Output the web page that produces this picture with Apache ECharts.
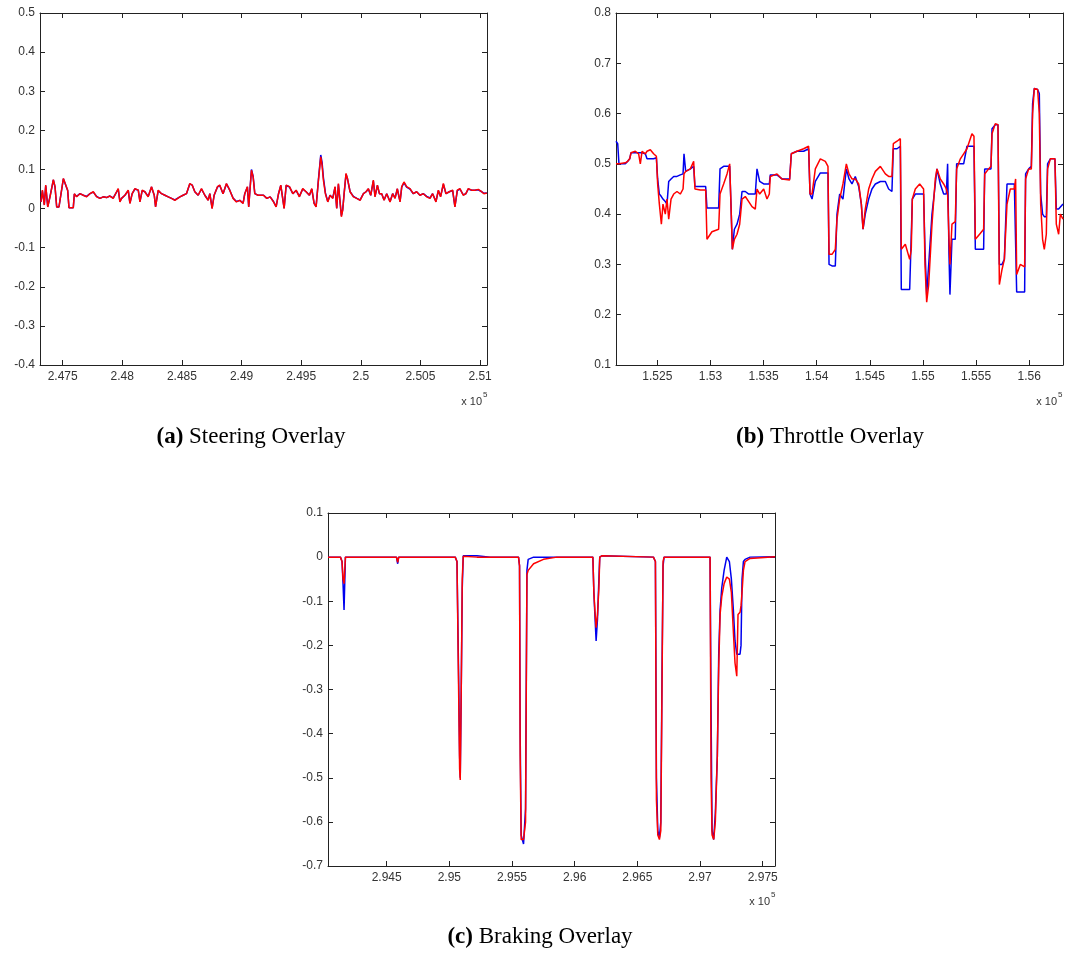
<!DOCTYPE html>
<html>
<head>
<meta charset="utf-8">
<script src="https://cdn.jsdelivr.net/npm/echarts@6/dist/echarts.min.js"></script>
<style>
html,body{margin:0;padding:0;background:#fff;}
#chart{width:1069px;height:954px;}
</style>
</head>
<body>
<div id="chart"></div>
<script>
// ---------- (a) Steering ----------
const steerX = [
247318,247330,247346,247358,247375,247394,247422,247436,247450,247469,
247506,247519,247542,247553,247589,247598,247617,247645,247673,247701,
247729,247757,247785,247813,247840,247868,247896,247924,247952,247966,
247980,247994,248022,248050,248064,248083,248106,248134,248148,248167,
248189,248217,248245,248268,248279,248301,248329,248357,248385,248413,
248441,248455,248483,248510,248538,248566,248586,248608,248636,248664,
248692,248720,248734,248753,248770,248798,248817,248845,248873,248901,
248929,248957,248985,249013,249027,249049,249060,249083,249097,249111,
249139,
249184,249212,249240,249268,249290,249310,249329,249357,249374,249402,
249430,249458,249485,249513,249541,249569,249589,249608,249625,249645,
249664,249675,249686,249703,249723,249742,249765,249784,249798,249812,
249826,249837,249848,249860,249876,249888,249910,249938,249966,249994,
250022,250044,250063,250083,250105,250119,250139,250156,250175,250195,
250217,250245,250267,250287,250306,250329,250343,250362,250384,250412,
250440,250468,250496,250524,250552,250580,250602,250630,250650,250669,
250692,250714,250742,250770,250789,250809,250831,250859,250881,250901,
250929,250957,250985,251013,251032,251057
];
const steerRed = [
0.017,0.047,0.009,0.060,0.004,0.030,0.074,0.056,0.004,0.004,
0.077,0.073,0.047,0.002,0.002,0.038,0.030,0.038,0.034,0.030,
0.038,0.043,0.030,0.026,0.030,0.028,0.032,0.026,0.043,0.051,
0.017,0.026,0.034,0.047,0.013,0.038,0.051,0.047,0.017,0.047,
0.043,0.030,0.056,0.034,0.004,0.047,0.038,0.034,0.030,0.026,
0.021,0.017,0.030,0.034,0.038,0.064,0.060,0.043,0.034,0.051,
0.034,0.021,0.038,0.000,0.034,0.056,0.060,0.038,0.064,0.047,
0.026,0.017,0.021,0.013,0.038,0.056,0.004,0.098,0.081,0.038,
0.034,
0.034,0.026,0.030,0.017,0.004,0.038,0.060,0.000,0.060,0.056,
0.038,0.047,0.030,0.051,0.043,0.034,0.051,0.013,0.004,0.073,
0.132,0.111,0.073,0.038,0.017,0.034,0.026,0.056,0.000,0.064,
0.064,-0.021,-0.004,0.038,0.090,0.077,0.043,0.030,0.026,0.021,
0.038,0.043,0.051,0.034,0.073,0.030,0.060,0.038,0.038,0.021,
0.038,0.017,0.038,0.026,0.051,0.017,0.056,0.068,0.056,0.051,
0.038,0.043,0.034,0.038,0.030,0.026,0.038,0.017,0.047,0.030,
0.064,0.038,0.043,0.047,0.004,0.047,0.051,0.034,0.038,0.051,
0.047,0.047,0.049,0.043,0.038,0.040
];
const steerBlue = [
0.017,0.045,0.010,0.058,0.005,0.031,0.073,0.055,0.004,0.004,
0.076,0.072,0.046,0.002,0.002,0.037,0.031,0.038,0.034,0.031,
0.038,0.042,0.031,0.026,0.030,0.028,0.032,0.027,0.042,0.050,
0.018,0.026,0.034,0.046,0.014,0.038,0.050,0.047,0.018,0.046,
0.043,0.031,0.055,0.034,0.005,0.046,0.038,0.034,0.030,0.026,
0.022,0.018,0.030,0.034,0.038,0.063,0.060,0.043,0.034,0.050,
0.034,0.022,0.038,0.001,0.034,0.055,0.059,0.038,0.063,0.047,
0.027,0.018,0.021,0.014,0.038,0.055,0.005,0.100,0.083,0.038,
0.034,
0.034,0.026,0.030,0.018,0.005,0.038,0.059,0.001,0.059,0.055,
0.038,0.046,0.031,0.050,0.043,0.034,0.050,0.014,0.005,0.076,
0.137,0.118,0.080,0.040,0.018,0.034,0.027,0.055,0.001,0.062,
0.063,-0.018,-0.003,0.038,0.088,0.076,0.043,0.031,0.026,0.022,
0.038,0.043,0.050,0.034,0.071,0.031,0.059,0.038,0.038,0.022,
0.038,0.018,0.038,0.027,0.050,0.018,0.055,0.066,0.055,0.050,
0.038,0.043,0.034,0.038,0.031,0.027,0.038,0.018,0.046,0.031,
0.062,0.038,0.043,0.046,0.005,0.046,0.050,0.035,0.038,0.050,
0.047,0.047,0.048,0.043,0.039,0.040
];
const steerTicks = [247500,248000,248500,249000,249500,250000,250500,251000];

// ---------- (b) Throttle ----------
const throtX = [
152111,152127,152139,152199,152221,152240,152252,152293,152324,152340,
152356,152387,152403,152434,152465,152491,152503,152519,152538,152553,
152575,152591,152607,152629,152654,152685,152716,152742,152751,152767,
152811,152842,152854,152905,152955,152967,153014,153077,153090,153124,
153156,153181,153193,153206,153225,153250,153275,153297,153328,153360,
153391,153422,153438,153463,153501,153532,153554,153563,153626,153673,
153745,153761,153814,153877,153924,153937,153956,153987,154034,154081,
154106,154116,154144,154175,154191,154216,154247,154279,154304,154332,
154363,154395,154420,154436,154457,154489,154520,154552,154599,154646,
154677,154708,154721,154756,154787,154796,154834,154875,154890,154900,
154928,154969,155006,155019,155035,155054,155085,155116,155132,155163,
155195,155220,155232,155245,155254,155273,155304,155317,155352,155383,
155414,155461,155480,155493,155533,155571,155581,155618,155640,155650,
155681,155706,155719,155744,155766,155791,155822,155860,155872,155882,
155916,155957,155966,155995,156020,156032,156048,156079,156095,156108,
156126,156142,156161,156173,156199,156242,156255,156277,156293,156318
];
const throtBlue = [
0.545,0.54,0.50,0.50,0.505,0.51,0.522,0.522,0.522,0.52,
0.522,0.52,0.51,0.51,0.51,0.512,0.47,0.44,0.435,0.43,
0.425,0.42,0.465,0.47,0.475,0.475,0.478,0.48,0.52,0.485,
0.49,0.495,0.455,0.455,0.455,0.412,0.412,0.412,0.49,0.495,
0.495,0.495,0.42,0.33,0.37,0.38,0.40,0.445,0.445,0.44,
0.44,0.44,0.49,0.465,0.46,0.46,0.46,0.478,0.478,0.47,
0.47,0.52,0.525,0.525,0.53,0.44,0.43,0.465,0.482,0.482,
0.482,0.30,0.297,0.297,0.40,0.44,0.43,0.49,0.47,0.46,
0.475,0.455,0.42,0.37,0.40,0.43,0.45,0.46,0.465,0.465,
0.45,0.445,0.53,0.53,0.535,0.25,0.25,0.25,0.25,0.43,
0.44,0.44,0.44,0.33,0.24,0.30,0.40,0.46,0.49,0.46,
0.44,0.44,0.50,0.32,0.24,0.35,0.35,0.50,0.50,0.50,
0.535,0.535,0.535,0.33,0.33,0.33,0.49,0.49,0.49,0.57,
0.578,0.578,0.30,0.30,0.31,0.46,0.46,0.46,0.46,0.245,
0.245,0.245,0.48,0.49,0.495,0.62,0.65,0.648,0.64,0.44,
0.40,0.395,0.395,0.50,0.51,0.51,0.41,0.41,0.41,0.42
];
const throtRed = [
0.50,0.50,0.50,0.502,0.505,0.51,0.522,0.525,0.52,0.50,
0.525,0.52,0.525,0.528,0.52,0.515,0.46,0.42,0.38,0.42,
0.40,0.43,0.39,0.43,0.44,0.445,0.44,0.45,0.48,0.485,
0.49,0.505,0.45,0.448,0.448,0.35,0.365,0.37,0.44,0.46,
0.48,0.50,0.42,0.33,0.35,0.36,0.38,0.43,0.435,0.425,
0.415,0.41,0.45,0.44,0.45,0.43,0.44,0.475,0.48,0.47,
0.468,0.52,0.525,0.53,0.535,0.44,0.44,0.49,0.51,0.505,
0.495,0.32,0.32,0.33,0.39,0.43,0.46,0.50,0.48,0.47,
0.47,0.46,0.42,0.37,0.41,0.45,0.47,0.485,0.495,0.48,
0.475,0.475,0.54,0.545,0.55,0.33,0.34,0.31,0.33,0.43,
0.45,0.46,0.45,0.30,0.225,0.26,0.38,0.47,0.49,0.47,
0.46,0.45,0.44,0.35,0.30,0.38,0.385,0.49,0.51,0.52,
0.53,0.56,0.555,0.35,0.36,0.37,0.48,0.49,0.495,0.56,
0.58,0.578,0.26,0.29,0.31,0.42,0.45,0.45,0.47,0.28,
0.30,0.295,0.47,0.49,0.49,0.60,0.65,0.648,0.60,0.42,
0.35,0.33,0.36,0.49,0.51,0.51,0.38,0.36,0.40,0.39
];
const throtTicks = [152500,153000,153500,154000,154500,155000,155500,156000];

// ---------- (c) Braking ----------
const brakeX = [
294032,294131,294144,294152,294160,294171,294184,294224,294476,294578,294588,
294596,295047,295061,295074,295082,295087,295095,295103,295111,295220,
295326,295552,295560,295565,295573,295592,295608,295619,295629,295672,
295751,295858,296145,296153,296161,296171,296182,296193,296200,296216,
296628,296644,296652,296663,296676,296687,296697,296705,296713,297080,
297088,297096,297109,297122,297138,297149,297160,297173,297192,297213,
297234,297250,297266,297279,297293,297303,297319,297327,297335,297346,
297359,297399,297598
];
const brakeBlue = [
0,0,-0.01,-0.06,-0.12,0,0.003,0,0,0,-0.015,
0,0,-0.01,-0.27,-0.45,-0.5,-0.3,-0.07,0.003,0.003,
0,0,-0.02,-0.4,-0.63,-0.65,-0.57,-0.03,-0.005,0,
0,0,0,-0.08,-0.13,-0.19,-0.14,-0.05,0,0.003,
0,-0.01,-0.5,-0.62,-0.635,-0.6,-0.25,-0.02,0,0,
-0.35,-0.62,-0.64,-0.58,-0.45,-0.22,-0.12,-0.07,-0.03,0,
-0.01,-0.05,-0.12,-0.19,-0.22,-0.22,-0.22,-0.2,-0.05,-0.01,
-0.005,0,0.001
];
const brakeRed = [
0,0,-0.01,-0.05,-0.06,0,0.003,0,0,0,-0.012,
0,0,-0.01,-0.3,-0.48,-0.505,-0.3,-0.05,0.002,0,
0,0,-0.02,-0.45,-0.64,-0.64,-0.6,-0.04,-0.03,-0.015,
-0.005,0,0,-0.08,-0.12,-0.16,-0.13,-0.07,0,0.003,
0,-0.01,-0.55,-0.63,-0.64,-0.62,-0.28,-0.01,0,0,
-0.5,-0.63,-0.64,-0.6,-0.45,-0.25,-0.13,-0.09,-0.06,-0.045,
-0.05,-0.08,-0.17,-0.24,-0.27,-0.13,-0.125,-0.11,-0.08,-0.03,
-0.01,-0.003,0.001
];
const brakeTicks = [294500,295000,295500,296000,296500,297000,297500];

const captions = ['Steering Overlay', 'Throttle Overlay', 'Braking Overlay'];
const captionTags = ['(a)', '(b)', '(c)'];
const scaleText = 'x 10';
const scaleExp = '5';

// ---------- build ----------
const pair = (xs, ys) => xs.map((x, i) => [x, ys[i]]);
const fmtX = v => String(+(v / 1e5).toFixed(4));
const TXT = '#333';
const LINE = '#222';
const SANS = 'Liberation Sans, Arial, sans-serif';
const SERIF = 'Liberation Serif, Times New Roman, serif';

const panels = [
  {grid:{left:40, top:13, width:447, height:352}, xmin:247310, xmax:251058, ymin:-0.4, ymax:0.5, ticks:steerTicks,
   blue:pair(steerX, steerBlue), red:pair(steerX, steerRed)},
  {grid:{left:616, top:13, width:447, height:352}, xmin:152111, xmax:156318, ymin:0.1, ymax:0.8, ticks:throtTicks,
   blue:pair(throtX, throtBlue), red:pair(throtX, throtRed)},
  {grid:{left:328, top:513, width:447, height:353}, xmin:294032, xmax:297598, ymin:-0.7, ymax:0.1, ticks:brakeTicks,
   blue:pair(brakeX, brakeBlue), red:pair(brakeX, brakeRed)}
];

const grids = [], xAxes = [], yAxes = [], series = [];
panels.forEach((p, i) => {
  grids.push(Object.assign({containLabel:false}, p.grid));
  const common = {axisLine:{show:true, onZero:false, lineStyle:{color:LINE, width:1}}, splitLine:{show:false}};
  xAxes.push(Object.assign({type:'value', gridIndex:i, position:'bottom', min:p.xmin, max:p.xmax,
    axisTick:{show:true, inside:true, length:5, customValues:p.ticks, lineStyle:{color:LINE}},
    axisLabel:{show:true, customValues:p.ticks, formatter:fmtX, margin:6, color:TXT, fontSize:12, fontFamily:SANS}}, common));
  xAxes.push(Object.assign({type:'value', gridIndex:i, position:'top', min:p.xmin, max:p.xmax,
    axisTick:{show:true, inside:true, length:5, customValues:p.ticks, lineStyle:{color:LINE}},
    axisLabel:{show:false}}, common));
  yAxes.push(Object.assign({type:'value', gridIndex:i, position:'left', min:p.ymin, max:p.ymax, interval:0.1,
    axisTick:{show:true, inside:true, length:5, lineStyle:{color:LINE}},
    axisLabel:{show:true, margin:5, color:TXT, fontSize:12, fontFamily:SANS,
      formatter: v => String(+v.toFixed(2))}}, common));
  yAxes.push(Object.assign({type:'value', gridIndex:i, position:'right', min:p.ymin, max:p.ymax, interval:0.1,
    axisTick:{show:true, inside:true, length:5, lineStyle:{color:LINE}},
    axisLabel:{show:false}}, common));
  series.push({type:'line', xAxisIndex:2*i, yAxisIndex:2*i, data:p.blue, showSymbol:false, symbol:'none',
    lineStyle:{color:'#0000ee', width:1.5}, itemStyle:{color:'#0000ee'}, z:2});
  series.push({type:'line', xAxisIndex:2*i, yAxisIndex:2*i, data:p.red, showSymbol:false, symbol:'none',
    lineStyle:{color:'#ff0000', width:1.5}, itemStyle:{color:'#ff0000'}, z:3});
});

const capPos = [[251, 437], [830, 437], [540, 937]];
const expPos = [[482, 402], [1057, 402], [770, 902]];
const graphic = [];
capPos.forEach((c, i) => {
  graphic.push({type:'text', x:c[0], y:c[1], style:{
    text:'{b|' + captionTags[i] + '} ' + captions[i],
    rich:{b:{fontWeight:'bold', fontFamily:SERIF, fontSize:23, fill:'#000'}},
    fontFamily:SERIF, fontSize:23, fill:'#000',
    align:'center', verticalAlign:'middle'}});
});
expPos.forEach(e => {
  graphic.push({type:'text', x:e[0], y:e[1], style:{text:scaleText, fontFamily:SANS,
    fontSize:11, fill:TXT, align:'right', verticalAlign:'middle'}});
  graphic.push({type:'text', x:e[0] + 1, y:e[1] - 7, style:{text:scaleExp, fontFamily:SANS,
    fontSize:8, fill:TXT, align:'left', verticalAlign:'middle'}});
});

const chart = echarts.init(document.getElementById('chart'), null, {renderer:'canvas'});
chart.setOption({
  animation:false,
  backgroundColor:'#fff',
  grid:grids, xAxis:xAxes, yAxis:yAxes, series:series, graphic:graphic
});
</script>
</body>
</html>
